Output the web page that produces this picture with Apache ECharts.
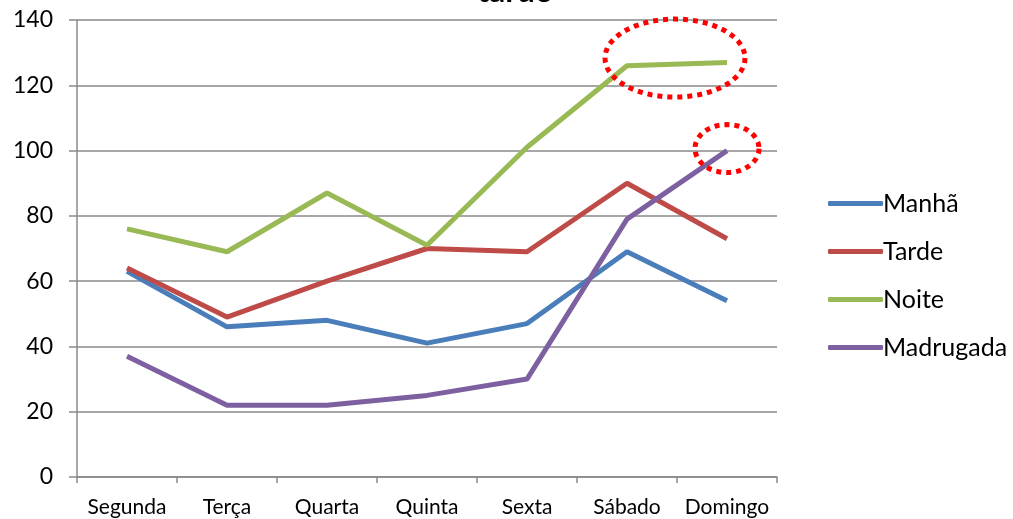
<!DOCTYPE html>
<html>
<head>
<meta charset="utf-8">
<script src="https://cdn.jsdelivr.net/npm/echarts@6/dist/echarts.min.js"></script>
<style>
  html, body { margin: 0; padding: 0; background: #fff; }
  #chart { width: 1013px; height: 519px; }
</style>
</head>
<body>
<div id="chart"></div>
<script>
// dados
var dias = ['Segunda', 'Terça', 'Quarta', 'Quinta', 'Sexta', 'Sábado', 'Domingo'];
var manha = [63, 46, 48, 41, 47, 69, 54];
var tarde = [64, 49, 60, 70, 69, 90, 73];
var noite = [76, 69, 87, 71, 101, 126, 127];
var madrugada = [37, 22, 22, 25, 30, 79, 100];
var yTicks = [0, 20, 40, 60, 80, 100, 120, 140];

var fonte = 'Lato, "Open Sans", sans-serif';
var cinza = '#8a8a8a';

var chart = echarts.init(document.getElementById('chart'));

function serie(nome, dados, cor) {
  return {
    name: nome,
    type: 'line',
    data: dados,
    symbol: 'none',
    lineStyle: { width: 5, color: cor },
    itemStyle: { color: cor }
  };
}

var option = {
  backgroundColor: '#fff',
  animation: false,
  title: {
    text: 'tarde',
    left: 472,
    top: -29,
    textStyle: { fontFamily: fonte, fontSize: 32, fontWeight: 'bold', color: '#000' }
  },
  legend: {
    orient: 'vertical',
    left: 828,
    top: 191,
    padding: 0,
    itemWidth: 55,
    itemHeight: 5,
    itemGap: 23,
    icon: 'roundRect',
    textStyle: { fontFamily: fonte, fontSize: 25, color: '#000', padding: [0, 0, 0, -5] },
    data: ['Manhã', 'Tarde', 'Noite', 'Madrugada']
  },
  grid: { left: 77, right: 236, top: 20, bottom: 42, containLabel: false },
  xAxis: {
    type: 'category',
    data: dias,
    boundaryGap: true,
    axisLine: { lineStyle: { color: cinza, width: 1.5 } },
    axisTick: { show: true, interval: 0, length: 6, lineStyle: { color: cinza, width: 1.5 } },
    axisLabel: { interval: 0, fontFamily: fonte, fontSize: 21, color: '#000', margin: 20 },
    splitLine: { show: false }
  },
  yAxis: {
    type: 'value',
    min: yTicks[0],
    max: yTicks[yTicks.length - 1],
    interval: 20,
    axisLine: { show: true, lineStyle: { color: cinza, width: 1.5 } },
    axisTick: { show: true, length: 8, lineStyle: { color: cinza, width: 1.5 } },
    axisLabel: { fontFamily: fonte, fontSize: 23, color: '#000', margin: 24 },
    splitLine: { lineStyle: { color: cinza, width: 1.5 } }
  },
  series: [
    serie('Manhã', manha, '#4a7ebb'),
    serie('Tarde', tarde, '#be4b48'),
    serie('Noite', noite, '#98b954'),
    serie('Madrugada', madrugada, '#7d60a0')
  ]
};

chart.setOption(option);

// elipses pontilhadas vermelhas (anotações)
function elipse(cx, cy, rx, ry) {
  var pts = [];
  for (var i = 0; i < 72; i++) {
    var a = i / 72 * Math.PI * 2;
    pts.push([cx + rx * Math.cos(a), cy + ry * Math.sin(a)]);
  }
  return {
    type: 'polygon',
    shape: { points: pts },
    style: { fill: 'none', stroke: '#ff0000', lineWidth: 5, lineDash: [5, 5] },
    z: 100
  };
}

var pSab = chart.convertToPixel({ gridIndex: 0 }, ['Sábado', noite[5]]);
var pDom = chart.convertToPixel({ gridIndex: 0 }, ['Domingo', noite[6]]);
var pMad = chart.convertToPixel({ gridIndex: 0 }, ['Domingo', madrugada[6]]);

chart.setOption({
  graphic: [
    elipse((pSab[0] + pDom[0]) / 2 - 2, (pSab[1] + pDom[1]) / 2 - 6, 70, 39),
    elipse(pMad[0], pMad[1] - 2, 32, 24)
  ]
});
</script>
</body>
</html>
